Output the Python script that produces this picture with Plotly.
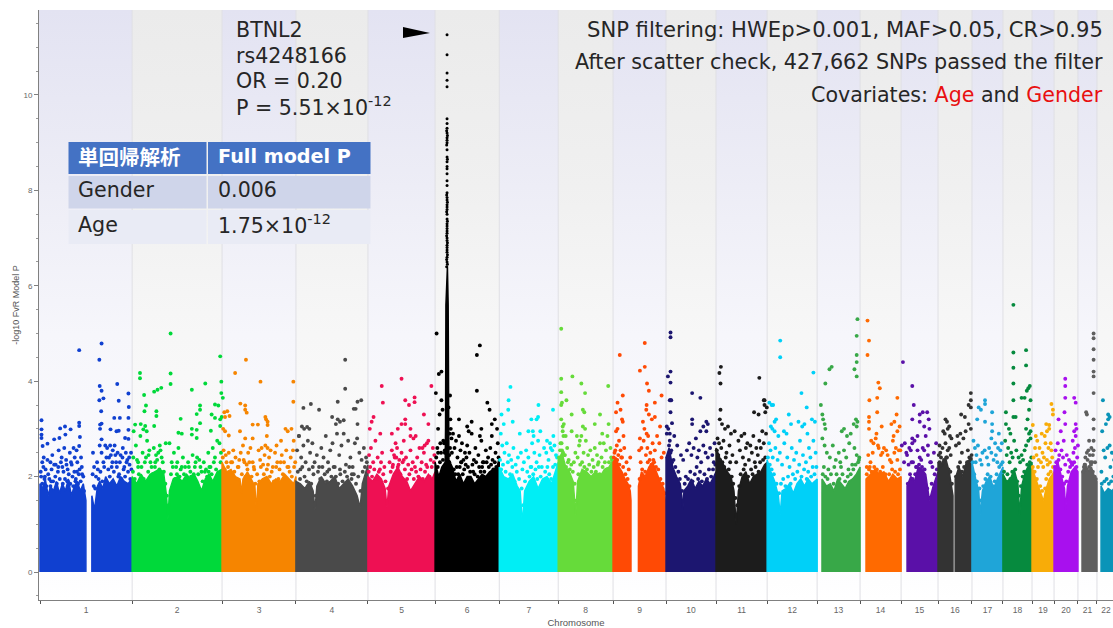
import plotly.graph_objects as go

chrom_names = [str(i) for i in range(1, 23)]
chrom_len = [247, 241, 198, 193, 180, 172, 158, 147, 142, 134, 137, 134, 115, 110, 99, 91, 83, 78, 59, 64, 51, 51]
chrom_color = ["#1040d0", "#00d93a", "#f68500", "#4a4a4a", "#ee1053", "#000000", "#00eef5", "#66db3a", "#ff4a05", "#1c1670", "#1c1c1c",
               "#00d0f8", "#38a848", "#ff6a00", "#5a10a8", "#333333", "#1fa5d8", "#068a3e", "#f8ac08", "#a810ee", "#5f5f5f", "#0a94b8"]
band_lavender = ["#e3e3f2", "#ededf6", "#f6f6fb", "#fbfbfe", "#ffffff"]
band_gray = ["#ebebeb", "#f0f0f0", "#f7f7f7", "#fcfcfc", "#ffffff"]

# solid mass of each chromosome: outline position (Mb) and height (-log10 P); None splits a centromere gap
mass_x_1 = [0,0,8,14,22,28,36,44,52,60,68,76,84,92,100,108,116,122,123,123,None,139,139,146,154,160,168,176,186,196,206,216,226,236,246,246]
mass_y_1 = [0,1.85,1.75,1.95,1.6,1.8,1.7,1.9,1.65,1.85,1.7,1.95,1.6,1.8,1.9,1.7,1.85,1.6,1.5,0,None,0,1.6,1.3,1.8,1.9,1.75,2.0,1.85,1.95,1.8,2.0,1.9,1.85,1.95,0]
mass_x_2 = [0,0,12,24,36,48,60,72,84,92,96,100,110,122,134,146,156,166,176,186,196,206,216,228,240,241,241]
mass_y_2 = [0,2.0,1.85,2.05,1.9,2.05,2.1,2.15,2.1,1.6,1.1,1.7,1.95,2.0,1.9,2.05,1.95,2.05,1.9,1.7,1.95,2.05,1.9,2.1,2.15,2.0,0]
mass_x_3 = [0,0,12,24,36,48,52,56,68,80,88,92,96,108,120,132,144,156,168,180,192,198,198]
mass_y_3 = [0,2.3,2.1,2.15,2.0,1.95,1.65,1.95,2.1,1.9,1.8,1.25,1.85,1.95,2.0,1.85,1.95,1.9,2.05,1.95,1.85,2.0,0]
mass_x_4 = [0,0,12,24,36,46,51,56,68,80,92,104,116,128,140,152,164,172,178,193,193]
mass_y_4 = [0,1.9,1.85,1.75,1.9,1.7,1.3,1.8,2.0,1.85,1.9,2.0,1.75,1.85,1.95,1.8,1.6,1.35,1.85,2.25,0]
mass_x_5 = [0,0,12,24,36,46,51,56,68,80,92,104,114,126,138,150,162,172,180,180]
mass_y_5 = [0,2.0,1.9,2.05,1.95,1.75,1.35,1.8,2.05,2.2,2.0,1.9,1.7,1.85,2.0,1.9,2.05,1.95,2.1,0]
mass_x_6 = [0,0,10,18,27,28,29,31,33,35,36,37,46,56,66,76,86,96,106,116,126,136,146,156,166,172,172]
mass_y_6 = [0,2.3,2.0,2.2,2.3,3.0,5.6,6.4,6.4,5.6,3.0,2.35,2.2,1.9,2.05,1.85,2.0,2.0,1.85,1.95,2.05,2.0,2.1,2.15,2.2,2.4,0]
mass_x_7 = [0,0,12,24,36,48,56,62,68,80,92,104,116,128,140,150,158,158]
mass_y_7 = [0,2.2,2.0,1.95,2.05,1.8,1.7,1.0,1.7,1.9,2.0,1.75,1.95,2.0,1.85,2.1,2.3,0]
mass_x_8 = [0,0,10,20,30,40,47,52,64,76,88,100,112,124,136,147,147]
mass_y_8 = [0,2.35,2.5,2.2,2.1,1.9,1.2,1.9,2.15,2.1,2.0,2.1,2.0,2.15,2.2,2.35,0]
mass_x_9 = [0,0,8,16,24,32,40,46,48,48,None,68,68,76,86,96,106,116,126,136,142,142]
mass_y_9 = [0,2.3,2.4,2.2,2.1,1.95,1.85,1.7,1.5,0,None,0,1.8,2.1,2.0,2.2,2.3,2.1,1.9,1.75,1.4,0]
mass_x_10 = [0,0,8,18,28,38,42,45,48,58,68,78,88,98,108,118,128,134,134]
mass_y_10 = [0,2.4,2.6,2.2,2.0,1.85,1.6,1.3,1.7,1.8,1.95,1.75,1.9,1.8,1.95,1.85,2.0,2.1,0]
mass_x_11 = [0,0,10,20,30,40,48,54,60,70,80,90,100,110,120,130,137,137]
mass_y_11 = [0,2.6,2.4,2.25,2.1,2.0,1.7,1.0,1.7,2.0,2.1,1.85,2.0,2.05,2.1,2.25,2.3,0]
mass_x_12 = [0,0,10,20,30,35,40,50,60,70,80,90,100,110,120,134,134]
mass_y_12 = [0,2.35,2.1,1.9,1.6,1.2,1.7,1.75,1.85,1.65,1.85,1.95,1.8,1.95,1.85,1.95,0]
mass_x_13 = [13,13,25,35,45,55,65,75,85,95,105,115,115]
mass_y_13 = [0,1.95,1.8,1.85,1.7,1.95,1.85,1.75,1.9,1.95,2.05,2.2,0]
mass_x_14 = [16,16,28,40,52,64,76,88,100,110,110]
mass_y_14 = [0,1.95,2.05,2.15,2.05,2.1,1.9,2.05,1.95,2.0,0]
mass_x_15 = [16,16,26,36,46,56,66,76,86,99,99]
mass_y_15 = [0,1.8,2.0,1.9,2.2,2.15,2.05,1.5,1.8,2.1,0]
mass_x_16 = [0,0,10,20,30,40,40,None,46,46,56,66,76,91,91]
mass_y_16 = [0,2.3,2.2,2.4,2.1,1.6,0,None,0,1.95,2.2,2.0,2.3,2.4,0]
mass_x_17 = [0,0,10,18,22,28,38,48,58,68,83,83]
mass_y_17 = [0,2.3,1.95,1.7,1.2,1.7,1.9,2.0,1.75,1.95,2.2,0]
mass_x_18 = [0,0,10,20,30,40,45,50,60,70,78,78]
mass_y_18 = [0,2.05,1.9,1.95,2.15,1.85,1.2,1.8,2.1,2.25,2.3,0]
mass_x_19 = [0,0,10,20,28,31,36,46,59,59]
mass_y_19 = [0,2.2,1.95,1.7,1.55,1.5,1.7,1.95,2.1,0]
mass_x_20 = [0,0,10,20,28,31,36,46,56,64,64]
mass_y_20 = [0,2.15,2.3,2.0,1.75,1.3,1.8,2.1,2.2,2.1,0]
mass_x_21 = [11,11,20,28,36,44,51,51]
mass_y_21 = [0,2.1,2.25,2.1,2.2,2.0,1.9,0]
mass_x_22 = [11,11,20,30,40,51,51]
mass_y_22 = [0,1.8,1.65,1.75,1.7,1.8,0]

# loose points above the mass: position in chromosome (Mb), -log10 P
pos_1 = [4,4,4,4,7,20,38,52,54,67,68,82,105,105,105,107,105,6,10,15,22,28,33,42,48,50,58,60,65,70,74,80,85,90,92,98,100,104,110,112,116,3,12,30,75,95,
         165,159,160,165,159,170,164,207,237,211,238,199,214,237,161,165,161,189,205,211,237,228,237,165,142,145,150,165,170,175,180,185,188,192,195,200,204,208,212,216,222,226,230,234,240,244,155,160,
         2,6,9,13,17,20,25,28,31,35,38,41,45,49,53,56,61,63,67,71,73,77,81,83,87,89,93,96,99,102,106,109,113,118,141,144,148,153,157,162,167,172,178,183,187,190,194,198,202,206,210,214,218,221,224,228,232,236,239,242,245]
p_1 = [3.18,2.99,2.88,2.81,2.64,2.69,2.78,2.81,3.01,3.05,2.88,2.99,3.13,3.06,4.65,2.83,2.64,2.3,2.4,2.15,2.05,2.3,2.45,2.25,2.1,2.55,2.4,2.2,2.6,2.35,2.15,2.5,2.25,2.6,2.1,2.55,2.3,2.05,2.4,2.2,2.0,2.0,1.95,1.9,1.9,1.9,
       4.79,4.45,3.9,3.8,3.6,3.64,3.37,3.94,3.74,3.59,3.46,3.23,3.23,3.23,3.09,3.11,3.0,2.99,2.95,2.96,2.98,2.81,2.79,2.78,2.5,2.2,2.0,2.5,2.3,2.65,2.6,2.4,2.65,2.2,2.55,2.65,2.3,2.5,2.05,2.45,2.6,2.2,2.5,2.35,2.25,2.5,2.15,2.65,
       2.1,1.85,2.2,2.0,1.8,2.35,1.95,1.8,2.15,1.9,2.25,2.0,1.85,2.2,1.95,2.3,1.85,2.1,1.95,2.25,1.9,2.05,1.85,2.3,2.0,1.8,2.4,1.95,2.1,1.85,2.15,1.9,2.05,1.7,2.05,1.8,1.75,2.3,1.95,2.1,1.9,2.2,2.4,2.15,2.0,2.45,2.3,2.1,2.45,2.2,2.0,2.3,1.95,2.4,2.15,2.0,2.3,2.1,2.4,1.95,2.15]
pos_2 = [21,21,32,37,33,59,68,78,103,103,103,160,196,236,239,239,243,182,182,173,222,231,130,65,65,213,222,236,240,236,8,23,35,59,4,30,39,124,133,160,173,182,211,160,173,
         3,10,16,22,28,34,40,46,52,58,64,70,76,82,90,100,106,112,118,124,130,136,142,150,156,162,168,174,180,186,192,198,204,210,216,222,228,234,238,16,44,62,74,120,165,205,
         2,7,13,18,25,31,37,43,49,55,61,67,73,79,85,89,93,98,104,109,115,121,127,133,139,145,152,158,164,170,177,183,189,195,201,207,213,219,225,231,237]
p_2 = [4.17,4.06,3.71,3.49,3.37,3.78,3.82,3.86,5.0,4.16,3.94,3.82,3.95,4.52,3.99,3.75,3.65,3.49,3.4,3.31,3.51,3.49,3.21,3.37,3.27,3.3,3.23,3.2,3.25,3.06,3.09,3.1,3.06,3.06,2.95,2.99,2.95,2.92,2.9,3.0,2.98,3.12,2.96,2.88,2.81,
       2.4,2.65,2.2,2.85,2.5,2.3,2.75,2.55,2.2,2.6,2.45,2.5,2.55,2.3,2.7,2.7,2.3,2.5,2.2,2.6,2.15,2.4,2.2,2.3,2.1,2.45,2.2,2.4,2.35,2.1,2.3,2.15,2.5,2.2,2.6,2.4,2.75,2.7,2.5,2.3,2.45,2.3,2.65,2.05,2.05,2.1,
       2.1,1.95,2.35,2.05,2.2,1.95,2.4,2.1,2.3,2.05,2.2,2.35,2.15,2.4,2.1,1.85,1.6,1.4,2.05,2.2,1.95,2.3,2.0,2.2,2.05,1.95,2.2,2.0,1.95,2.3,2.05,2.2,1.9,2.1,2.0,2.2,2.05,2.3,2.15,2.05,2.3]
pos_3 = [64,35,103,191,191,49,62,62,66,82,96,116,118,122,122,6,8,14,20,3,8,18,48,62,82,120,116,122,146,158,170,176,186,192,
         4,10,18,24,30,36,42,46,50,56,60,66,70,76,82,86,98,102,106,110,114,120,126,130,136,142,148,154,160,166,172,178,184,190,196,
         2,7,12,16,21,27,33,39,44,53,58,63,68,73,79,85,89,94,100,104,112,117,123,128,133,139,145,151,157,163,169,175,181,187,193]
p_3 = [4.45,4.17,3.99,3.99,3.57,3.53,3.49,3.4,3.34,3.09,3.09,3.25,3.2,3.15,3.08,3.35,3.25,3.37,3.27,3.0,2.95,2.86,2.95,2.8,2.8,2.85,2.65,2.6,2.65,2.75,3.0,2.95,3.0,2.75,
       2.55,2.45,2.5,2.3,2.55,2.4,2.2,2.35,2.5,2.65,2.3,2.25,2.5,2.6,2.3,2.15,2.55,2.35,2.6,2.25,2.45,2.15,2.4,2.55,2.2,2.5,2.3,2.15,2.45,2.3,2.55,2.2,2.4,2.55,2.3,
       2.4,2.15,2.3,2.2,2.05,2.3,2.1,1.95,2.2,2.05,2.35,2.0,2.15,2.3,2.0,2.2,1.85,2.05,1.9,2.2,2.05,1.95,2.25,2.0,2.1,1.9,2.2,1.95,2.3,2.05,1.95,2.2,2.1,2.0,2.2]
pos_4 = [132,132,112,160,165,175,8,20,40,62,97,107,112,118,128,155,165,16,22,30,36,
         3,8,14,20,26,32,38,44,50,56,62,68,74,80,86,92,98,104,110,116,122,128,134,140,146,152,158,164,170,176,182,188,12,45,84,118,150,
         5,11,17,23,29,35,41,47,53,59,65,71,77,83,89,95,101,107,113,119,125,131,137,143,149,155,161,167,173,179,185,190]
p_4 = [4.45,3.84,3.57,3.42,3.57,3.6,2.85,3.44,3.52,3.4,3.25,3.1,3.2,3.15,3.18,3.42,3.1,3.05,3.0,3.04,3.0,
       2.55,2.85,2.4,2.65,2.3,2.75,2.5,2.7,2.3,2.45,2.2,2.6,2.4,2.85,2.3,2.55,2.7,2.2,2.9,2.45,2.65,2.9,2.25,2.75,2.4,2.2,2.7,2.8,2.5,2.35,2.6,2.4,2.15,2.2,2.1,2.15,2.05,
       2.1,1.95,2.2,2.0,1.9,2.15,1.85,2.05,1.6,2.1,1.95,2.2,2.05,1.9,2.15,2.0,2.2,2.0,1.85,2.05,1.9,2.1,2.0,2.2,1.95,2.05,1.85,2.0,1.7,2.1,2.2,2.3]
pos_5 = [37,40,90,110,100,125,125,170,150,162,10,15,5,33,64,80,90,100,100,114,114,122,128,146,152,158,
         3,8,14,20,26,32,38,44,58,64,70,74,78,84,90,96,102,108,114,120,126,132,138,144,150,156,162,168,174,178,66,72,82,96,
         2,6,11,17,23,29,35,41,47,54,61,67,76,80,87,93,99,105,111,117,123,129,135,141,147,153,159,165,171,177]
p_5 = [3.9,3.55,4.05,3.5,3.6,3.66,3.56,3.9,3.3,3.1,3.15,3.25,3.0,2.9,2.9,3.0,3.1,3.2,3.1,3.0,2.85,2.8,2.85,2.6,2.65,2.7,
       2.45,2.6,2.3,2.75,2.4,2.15,2.5,2.2,2.3,2.55,2.45,2.7,2.6,2.35,2.5,2.75,2.4,2.25,2.55,2.3,2.2,2.4,2.6,2.3,2.5,2.25,2.75,2.35,2.6,2.45,2.2,2.4,2.25,2.35,
       2.1,2.2,2.0,2.15,1.95,2.1,2.3,2.05,1.9,1.75,2.1,2.25,2.4,2.2,2.05,2.3,2.15,1.95,2.05,2.15,1.95,2.1,2.0,2.15,1.95,2.1,2.2,2.0,2.2,2.3]
tower_count = 55
pos_6 = [32,32,32,32,32,32,32,32,32,32,32,32,32,32,32,32,32,32,32,32,32,32,32,32,32,32,32,32,32,32,32,32,32,32,
         31,33,32,31,33,32,31,33,32,31,33,32,32,31,33,32,33,31,32,31,33,
         10,4,17,2,12,17,20,112,120,112,140,152,40,36,64,86,90,98,120,124,146,152,160,166,8,14,8,
         38,42,48,52,56,60,64,68,72,76,80,86,92,98,104,108,116,124,130,136,142,148,154,162,168,6,22,26,45,70,84,100,128,
         3,7,13,16,21,24,26,38,40,41,44,39,50,54,58,62,66,70,74,78,82,88,94,102,106,110,114,118,122,126,132,138,144,150,156,160,164,170]
p_6 = [11.26,10.84,10.46,10.31,10.17,9.5,9.4,9.3,9.2,9.1,9.0,8.85,8.7,8.6,8.5,8.35,8.2,8.1,7.95,7.85,7.8,7.7,7.6,7.5,7.4,7.3,7.2,7.1,7.0,6.95,6.85,6.8,6.7,6.6,
       9.25,9.15,9.05,8.95,8.65,8.45,7.9,7.75,7.65,7.55,7.35,7.25,7.15,7.05,6.9,6.75,6.65,6.55,6.5,6.4,6.45,
       4.15,5.0,4.2,3.75,3.3,3.6,3.4,4.55,4.75,3.8,3.55,3.1,3.7,3.45,3.2,3.05,2.95,3.15,2.85,3.0,3.4,2.85,3.2,3.0,3.0,2.7,2.5,
       2.45,3.0,2.9,2.6,2.75,2.4,2.85,2.55,2.7,2.35,2.5,2.65,2.5,2.9,2.35,2.6,2.45,2.75,2.3,2.55,2.4,2.6,2.35,2.5,2.7,2.6,2.75,2.55,2.5,2.3,2.4,2.25,2.3,
       2.4,2.2,2.3,2.5,2.35,2.7,2.5,2.3,2.6,3.2,2.8,2.9,2.15,2.05,2.2,2.05,2.2,2.3,2.05,2.15,2.25,2.2,2.1,2.1,2.05,2.3,2.0,2.2,2.1,2.2,2.1,2.3,2.2,2.25,2.15,2.3,2.2,2.4]
pos_7 = [30,25,6,24,105,144,86,104,100,90,12,36,55,78,92,110,128,138,145,8,14,20,26,32,38,44,50,58,62,66,72,78,84,88,94,100,104,108,114,120,126,132,136,142,148,152,4,
         2,5,10,17,23,29,35,41,47,53,60,64,69,75,81,86,91,97,102,106,111,117,123,129,134,139,144,150,155]
p_7 = [3.88,3.6,3.3,3.4,3.5,3.4,3.2,3.25,3.2,2.95,3.1,3.15,2.9,2.95,2.85,2.95,2.75,2.6,2.85,2.65,2.5,2.7,2.45,2.35,2.6,2.25,2.4,2.5,2.15,2.3,2.55,2.4,2.2,2.7,2.5,2.3,2.75,2.45,2.2,2.6,2.5,2.35,2.7,2.55,2.65,2.45,2.9,
       2.35,2.15,2.25,2.1,2.3,2.05,2.2,1.9,2.1,1.95,1.75,1.4,1.9,2.1,2.0,2.2,2.05,2.15,1.95,2.2,2.0,1.9,2.1,2.2,2.05,1.95,2.2,2.25,2.4]
pos_8 = [8,8,8,38,62,72,134,10,8,22,36,66,70,12,15,8,112,98,135,72,66,36,50,58,12,20,112,118,132,6,10,14,18,24,28,42,46,52,56,62,68,74,80,86,92,98,104,108,116,122,128,140,144,
         2,5,9,13,16,21,26,31,35,39,44,49,54,59,64,70,77,83,89,95,101,106,111,119,125,130,136,142]
p_8 = [5.1,4.05,3.77,4.1,3.95,3.75,3.9,3.55,3.5,3.6,3.3,3.4,3.35,3.05,3.1,3.2,3.3,3.1,3.1,3.0,3.05,2.95,2.85,2.75,2.95,2.85,2.7,2.9,2.85,2.7,2.55,2.85,2.45,2.6,2.35,2.3,2.5,2.4,2.65,2.85,2.5,2.75,2.45,2.55,2.35,2.6,2.45,2.3,2.4,2.7,2.55,2.6,2.35,
       2.4,2.55,2.7,2.5,2.45,2.2,2.3,2.15,2.25,2.1,1.85,1.5,2.05,2.25,2.3,2.2,2.15,2.25,2.1,2.2,2.1,2.25,2.05,2.2,2.3,2.15,2.3,2.4]
pos_9 = [18,26,12,8,20,26,12,24,8,16,28,4,10,14,20,24,30,36,42,46,
         85,72,85,91,96,90,89,112,126,130,112,80,72,84,90,96,104,70,76,82,88,94,100,106,112,118,124,130,136,74,92,108,
         2,6,11,17,22,27,33,39,44,71,78,86,93,98,103,110,115,121,127,133,139]
p_9 = [4.55,3.7,3.55,3.35,3.4,3.15,3.0,3.2,2.95,2.75,2.85,2.5,2.65,2.45,2.55,2.4,2.6,2.3,2.15,2.4,
       4.8,4.22,4.3,3.95,3.8,3.5,3.4,3.55,3.05,3.7,3.25,3.15,2.8,3.0,2.9,3.3,3.2,2.55,2.6,2.75,2.45,2.85,2.5,2.7,2.55,2.85,2.7,2.4,2.5,2.3,2.6,2.35,
       2.4,2.55,2.35,2.25,2.4,2.2,2.05,1.95,1.8,1.95,2.15,2.1,2.3,2.35,2.25,2.3,2.2,2.15,1.95,1.85,1.65]
pos_10 = [12,12,12,5,12,12,10,14,12,16,2,6,10,70,92,70,70,92,100,108,112,108,2,10,14,22,30,40,46,56,62,68,74,80,84,88,94,100,106,112,118,124,130,128,
          4,8,12,16,20,25,33,37,43,50,53,59,65,71,77,82,86,91,96,103,110,115,121,126,132]
p_10 = [5.02,4.92,4.2,4.1,3.97,3.6,3.6,3.6,3.35,3.12,3.05,3.0,2.9,3.75,3.65,3.1,3.2,2.95,3.05,3.15,3.1,2.95,2.9,2.75,2.55,2.85,2.65,2.45,2.35,2.55,2.7,2.45,2.6,2.8,2.4,2.55,2.3,2.65,2.5,2.4,2.6,2.45,2.7,2.3,
        2.4,2.65,2.5,2.3,2.35,2.2,2.1,1.95,1.7,1.85,2.0,1.95,2.1,1.9,2.05,2.2,1.95,2.1,1.9,2.05,1.95,2.15,2.0,2.15,2.25]
pos_11 = [13,9,12,116,128,102,114,130,130,136,132,12,10,16,24,32,40,50,60,68,76,84,92,100,108,116,124,134,4,8,14,20,28,36,44,54,64,72,80,88,96,104,112,120,128,
          2,6,11,17,22,26,34,38,42,46,52,57,62,66,74,78,86,94,98,106,114,118,126,132]
p_11 = [4.3,4.17,3.95,4.07,3.6,3.35,3.3,3.6,3.5,3.45,3.35,3.4,3.2,3.1,3.0,3.05,2.9,2.95,2.75,2.85,2.9,2.7,2.65,2.85,2.6,2.75,2.95,2.9,2.8,2.7,2.6,2.75,2.5,2.65,2.45,2.3,2.55,2.4,2.6,2.35,2.5,2.3,2.45,2.6,2.7,
        2.55,2.45,2.35,2.3,2.2,2.4,2.15,2.3,2.0,1.85,1.55,1.4,1.8,2.05,2.15,2.25,2.0,2.15,2.05,2.2,2.1,2.3,2.35,2.4]
pos_12 = [35,35,124,92,106,58,6,12,16,20,24,14,20,10,30,45,52,64,84,94,100,108,120,128,5,9,15,22,28,34,40,46,54,60,66,72,78,88,96,104,112,116,124,130,
          2,7,12,18,25,32,37,43,49,56,63,69,75,81,86,92,99,106,110,118,122,127,132]
p_12 = [4.85,4.5,4.18,3.75,3.45,3.3,3.55,3.5,3.5,3.15,3.2,3.0,2.95,3.05,2.85,2.95,2.9,3.1,3.15,3.05,3.1,2.9,3.2,3.15,2.7,2.55,2.4,2.6,2.35,2.5,2.25,2.7,2.4,2.2,2.6,2.35,2.5,2.75,2.45,2.3,2.6,2.4,2.75,2.5,
        2.4,2.25,2.15,2.05,1.85,1.65,1.85,1.95,1.8,2.0,1.85,2.05,1.95,2.1,2.25,2.0,2.15,1.95,2.1,2.0,2.2,2.05,2.2]
pos_13 = [108,106,100,106,106,39,33,22,106,10,14,16,20,22,72,66,80,90,98,104,108,106,14,20,26,34,42,50,58,64,72,78,86,94,100,106,112,18,30,46,62,84,
          15,22,28,37,44,52,60,68,75,82,90,97,103,110,113]
p_13 = [5.3,4.95,4.25,4.55,4.4,4.3,4.25,3.95,4.1,3.5,3.3,3.2,3.1,3.0,3.0,2.95,2.85,2.9,3.1,3.2,3.15,3.05,2.8,2.65,2.5,2.4,2.65,2.35,2.5,2.2,2.55,2.4,2.7,2.25,2.6,2.45,2.35,2.2,2.15,2.2,2.3,2.15,
        2.05,2.0,1.95,2.05,1.85,2.05,1.95,2.05,1.9,2.0,2.05,2.15,2.25,2.3,2.4]
pos_14 = [20,24,20,49,53,46,25,100,98,46,24,24,24,58,90,92,84,100,106,44,30,36,42,50,60,70,80,88,96,104,22,28,34,48,56,64,74,84,92,100,108,18,26,
          18,24,31,38,45,54,61,68,78,86,94,102,107]
p_14 = [5.27,4.85,4.55,3.97,3.85,3.65,3.6,3.65,3.3,3.35,3.0,3.25,3.15,3.05,2.85,3.15,3.1,2.95,3.05,2.9,2.75,2.7,2.8,2.6,2.5,2.55,2.35,2.75,2.6,2.55,2.45,2.3,2.5,2.65,2.45,2.6,2.45,2.3,2.5,2.35,2.55,2.2,2.2,
        2.05,2.15,2.1,2.2,2.15,2.1,2.2,2.05,2.05,2.15,2.1,2.05,2.15]
pos_15 = [5,30,50,34,30,50,58,70,74,62,44,76,30,30,72,2,10,16,22,28,36,44,50,58,66,72,80,88,94,8,14,20,26,32,40,54,62,78,84,
          18,24,31,38,42,48,56,63,70,76,82,90,96]
p_15 = [4.4,3.9,3.15,3.5,3.2,3.3,3.35,3.35,3.2,3.05,2.85,3.0,2.8,2.7,2.65,2.65,2.7,2.45,2.6,2.3,2.75,2.55,2.4,2.6,2.85,2.45,2.3,2.5,2.7,2.3,2.5,2.25,2.55,2.3,2.2,2.35,2.55,2.3,2.2,
        1.85,2.05,1.95,2.05,2.2,2.25,2.2,2.15,1.75,1.55,1.85,2.05,2.15]
pos_16 = [88,88,88,82,72,62,20,24,30,14,18,26,32,36,20,26,12,6,4,30,34,88,82,74,68,60,56,52,48,80,64,22,2,8,16,
          4,9,14,24,28,33,37,48,54,59,64,70,78,84,90]
p_16 = [3.75,3.6,3.45,3.5,3.25,3.3,3.2,3.15,3.05,2.95,2.9,3.0,2.85,2.8,2.7,2.55,2.6,2.5,2.65,2.6,2.45,3.0,3.1,2.95,2.8,2.9,2.7,2.85,2.65,2.55,2.5,2.4,2.45,2.4,2.35,
        2.3,2.25,2.3,2.4,2.15,2.1,1.85,2.0,2.2,2.3,2.1,2.2,2.3,2.4,2.45]
pos_17 = [35,35,18,24,14,35,54,54,54,72,52,62,4,8,12,16,22,28,34,40,46,52,58,64,70,76,80,10,26,44,68,
          2,6,13,20,24,30,36,42,50,56,61,66,73,78,82]
p_17 = [3.6,3.52,3.45,3.4,3.2,3.15,3.35,3.1,2.95,2.9,2.8,2.7,2.75,2.6,2.45,2.65,2.35,2.5,2.55,2.4,2.6,2.5,2.35,2.45,2.6,2.55,2.7,2.3,2.25,2.25,2.3,
        2.3,2.05,1.9,1.75,1.5,1.8,1.95,2.05,2.0,1.8,1.9,2.05,2.2,2.25,2.3]
pos_18 = [28,28,28,62,62,28,28,50,58,64,68,72,74,70,66,8,28,34,8,16,20,62,70,74,6,14,22,30,36,42,50,58,62,68,74,10,18,26,46,54,
          3,12,20,25,33,38,43,48,53,57,65,72,76]
p_18 = [5.6,4.6,4.28,4.65,4.33,3.95,3.6,3.65,3.65,3.8,3.85,3.9,3.6,3.4,3.2,3.35,3.25,3.25,3.1,3.0,2.9,3.0,2.9,2.95,2.75,2.6,2.5,2.75,2.55,2.4,2.45,2.55,2.65,2.75,2.8,2.45,2.3,2.4,2.3,2.35,
        2.1,2.05,1.95,2.1,2.15,1.9,1.6,1.8,2.0,2.1,2.25,2.3,2.4]
pos_19 = [52,56,56,2,38,46,40,46,34,26,50,14,36,10,8,20,28,44,52,4,12,18,24,32,40,48,54,16,30,42,
          2,7,13,22,27,35,38,44,50,56]
p_19 = [3.52,3.4,3.3,3.08,3.1,3.08,2.95,3.0,2.85,2.9,2.7,2.75,2.7,2.85,2.6,2.6,2.5,2.6,2.55,2.4,2.45,2.35,2.3,2.4,2.35,2.3,2.4,2.2,2.2,2.25,
        2.2,2.1,1.95,1.8,1.7,1.75,1.95,2.05,2.1,2.2]
pos_20 = [30,30,30,54,58,28,12,30,58,18,54,60,50,58,64,26,4,10,20,24,34,40,46,52,56,62,14,8,30,48,
          2,6,12,17,22,27,33,38,43,49,54,60]
p_20 = [4.05,3.9,3.65,3.65,3.55,3.35,3.2,3.1,3.1,2.95,2.95,3.0,2.75,2.85,2.65,2.75,2.55,2.7,2.55,2.4,2.45,2.35,2.3,2.5,2.6,2.4,2.45,2.3,2.25,2.25,
        2.2,2.3,2.35,2.15,2.0,1.85,1.9,2.1,2.2,2.25,2.3,2.2]
pos_21 = [42,42,42,42,42,42,42,22,24,42,42,42,30,24,36,42,26,32,38,18,20,28,34,40,46,16,
          14,19,24,30,35,40,45,48]
p_21 = [5.0,4.9,4.67,4.45,4.2,4.1,3.75,3.35,3.3,3.2,3.0,2.75,2.75,2.5,2.6,2.55,2.35,2.45,2.3,2.25,2.4,2.55,2.3,2.45,2.3,2.2,
        2.1,2.25,2.15,2.2,2.25,2.1,2.0,1.95]
pos_22 = [16,24,30,30,34,14,18,28,34,40,46,22,36,12,
          13,20,26,32,38,44,49]
p_22 = [3.6,3.1,3.3,3.2,3.25,2.95,2.55,2.6,2.65,2.5,2.35,2.4,2.2,2.1,
        1.85,1.9,1.95,1.85,1.9,2.0,1.9]

mass_xs = [mass_x_1,mass_x_2,mass_x_3,mass_x_4,mass_x_5,mass_x_6,mass_x_7,mass_x_8,mass_x_9,mass_x_10,mass_x_11,
           mass_x_12,mass_x_13,mass_x_14,mass_x_15,mass_x_16,mass_x_17,mass_x_18,mass_x_19,mass_x_20,mass_x_21,mass_x_22]
mass_ys = [mass_y_1,mass_y_2,mass_y_3,mass_y_4,mass_y_5,mass_y_6,mass_y_7,mass_y_8,mass_y_9,mass_y_10,mass_y_11,
           mass_y_12,mass_y_13,mass_y_14,mass_y_15,mass_y_16,mass_y_17,mass_y_18,mass_y_19,mass_y_20,mass_y_21,mass_y_22]
positions = [pos_1,pos_2,pos_3,pos_4,pos_5,pos_6,pos_7,pos_8,pos_9,pos_10,pos_11,pos_12,pos_13,pos_14,pos_15,pos_16,pos_17,pos_18,pos_19,pos_20,pos_21,pos_22]
log_ps = [p_1,p_2,p_3,p_4,p_5,p_6,p_7,p_8,p_9,p_10,p_11,p_12,p_13,p_14,p_15,p_16,p_17,p_18,p_19,p_20,p_21,p_22]

W, H = 1113, 628
L, R, T, B = 39, 0, 10, 28
Y_MIN, Y_MAX = -0.587, 11.78
X_MIN, X_MAX = -2.7, 2876

def px(x):
    return (x - L) / (W - L - R)

def py(y):
    return 1 - (y - T) / (H - T - B)

fig = go.Figure()
starts = []
cum = 0
for n in chrom_len:
    starts.append(cum)
    cum += n

# backgrounds fading downward
for i, (s, n) in enumerate(zip(starts, chrom_len)):
    pal = band_lavender if i % 2 == 0 else band_gray
    x1 = s + n if i < 21 else X_MAX
    x0 = X_MIN if i == 0 else s
    fig.add_trace(go.Scatter(
        x=[x0, x1, x1, x0, x0], y=[Y_MIN, Y_MIN, Y_MAX, Y_MAX, Y_MIN],
        mode="lines", line=dict(width=0), fill="toself", hoverinfo="skip", showlegend=False,
        fillgradient=dict(type="vertical", start=Y_MAX, stop=Y_MIN,
                          colorscale=[[0, pal[0]], [0.3, pal[1]], [0.55, pal[2]], [0.9, pal[3]], [1, pal[4]]])))

boundaries = starts[1:]
sep_x, sep_y = [], []
for b in boundaries:
    sep_x += [b, b, None]
    sep_y += [Y_MIN, Y_MAX, None]
fig.add_trace(go.Scatter(x=sep_x, y=sep_y, mode="lines", line=dict(color="#dfdfe4", width=1), hoverinfo="skip", showlegend=False))

for i, s in enumerate(starts):
    mx = [None if v is None else v + s for v in mass_xs[i]]
    sizes = [3.9] * len(positions[i])
    if i == 5:
        sizes[:tower_count] = [3.0] * tower_count
    fig.add_trace(go.Scatter(x=mx, y=mass_ys[i], mode="lines", fill="toself", fillcolor=chrom_color[i],
                             line=dict(color=chrom_color[i], width=1.5), hoverinfo="skip", showlegend=False))
    fig.add_trace(go.Scatter(x=[v + s for v in positions[i]], y=log_ps[i], mode="markers",
                             marker=dict(color=chrom_color[i], size=sizes, opacity=1, line=dict(width=0)),
                             name="Chr " + chrom_names[i], showlegend=False))

centers = [s + n / 2 for s, n in zip(starts, chrom_len)]
centers[-1] = 2833 + 24

fig.update_xaxes(range=[X_MIN, X_MAX], tickmode="array", tickvals=centers, ticktext=chrom_names, ticks="", ticklen=0,
                 ticklabelstandoff=2, tickfont=dict(size=8.5, color="#666666", family="Liberation Sans"), showgrid=False, zeroline=False,
                 showline=True, linecolor="#808080", linewidth=1,
                 minor=dict(tickmode="array", tickvals=[0] + boundaries, ticks="outside", ticklen=3, tickcolor="#555555", showgrid=False),
                 title=dict(text="Chromosome", font=dict(size=9.5, color="#555555", family="Liberation Sans"), standoff=5))
fig.update_yaxes(range=[Y_MIN, Y_MAX], tickmode="array", tickvals=[0, 2, 4, 6, 8, 10], ticks="outside", ticklen=4,
                 tickfont=dict(size=8, color="#666666", family="Liberation Sans"), showgrid=False, zeroline=False,
                 showline=True, linecolor="#808080", linewidth=1, tickcolor="#808080",
                 minor=dict(dtick=0.5, ticks="outside", ticklen=2, tickcolor="#999999", showgrid=False),
                 title=dict(text="-log10 FvR Model P", font=dict(size=9, color="#555555", family="Liberation Sans"), standoff=2))

shapes = []
def rect(x0, y0, x1, y1, color):
    shapes.append(dict(type="rect", xref="paper", yref="paper", x0=px(x0), x1=px(x1), y0=py(y0), y1=py(y1),
                       fillcolor=color, line=dict(width=0), layer="above"))

rect(68.5, 142, 206.5, 174, "#4472c4")
rect(208, 142, 370.5, 174, "#4472c4")
rect(68.5, 176, 206.5, 208.5, "#cfd5ea")
rect(208, 176, 370.5, 208.5, "#cfd5ea")
rect(68.5, 210, 206.5, 244, "#e9ebf5")
rect(208, 210, 370.5, 244, "#e9ebf5")
shapes.append(dict(type="path", xref="paper", yref="paper", fillcolor="#000000", line=dict(width=0), layer="above",
                   path=f"M {px(403)} {py(27)} L {px(430)} {py(33)} L {px(403)} {py(38)} Z"))
fig.update_layout(shapes=shapes)

FONT = "DejaVu Sans"
def label(x, y, text, size=20.6, color="#262626", anchor="left", font=FONT):
    fig.add_annotation(xref="paper", yref="paper", x=px(x), y=py(y), text=text, showarrow=False, xanchor=anchor, yanchor="middle",
                       font=dict(size=size, color=color, family=font), align=anchor)

label(234, 30, "BTNL2")
label(234, 56, "rs4248166")
label(234, 81, "OR = 0.20")
label(234, 106, "P = 5.51×10<sup>-12</sup>")
label(76, 156, "<b>単回帰解析</b>", size=20.5, color="#ffffff", font="Noto Sans CJK JP")
label(216, 156, "<b>Full model P</b>", size=19.2, color="#ffffff")
label(76, 190, "Gender")
label(216, 190, "0.006")
label(76, 225, "Age")
label(216, 225, "1.75×10<sup>-12</sup>")
label(1105, 29, "SNP filtering: HWEp>0.001, MAF>0.05, CR>0.95", size=21.1, anchor="right")
label(1105, 62, "After scatter check, 427,662 SNPs passed the filter", size=20.7, anchor="right")
label(1105, 95, "Covariates: <span style='color:#e81010'>Age</span> and <span style='color:#e81010'>Gender</span>", anchor="right")

fig.update_layout(width=W, height=H, autosize=False, margin=dict(l=L, r=R, t=T, b=B), plot_bgcolor="#ffffff", paper_bgcolor="#ffffff", showlegend=False)
fig.write_html("out.html", config=dict(displayModeBar=False), post_script="document.body.style.margin='0';document.body.style.overflow='hidden';")
